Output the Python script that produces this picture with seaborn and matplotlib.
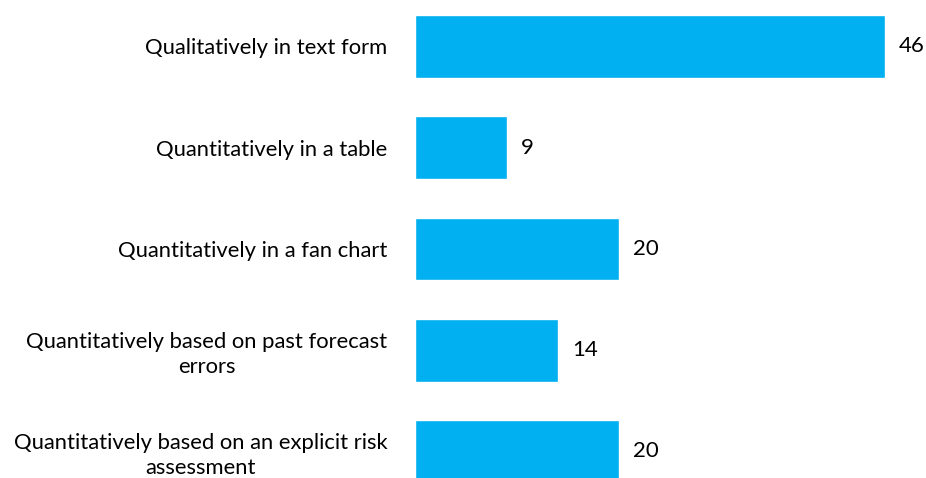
import matplotlib
matplotlib.use("Agg")
import matplotlib.pyplot as plt
import seaborn as sns
import pandas as pd

# data
categories = [
    "Qualitatively in text form",
    "Quantitatively in a table",
    "Quantitatively in a fan chart",
    "Quantitatively based on past forecast\nerrors",
    "Quantitatively based on an explicit risk\nassessment",
]
counts = [46, 9, 20, 14, 20]

df = pd.DataFrame({"Category": categories, "Count": counts})

sns.set_style("white")
plt.rcParams["font.family"] = ["Lato", "DejaVu Sans"]

fig = plt.figure(figsize=(9.26, 4.78), dpi=100)
ax = fig.add_axes([415 / 926, 0, 511 / 926, 1])

sns.barplot(data=df, x="Count", y="Category", orient="h", color="#00B0F0",
            saturation=1, width=0.62, ax=ax)

ax.bar_label(ax.containers[0], padding=10, fontsize=16, color="#000000")

ax.set_xlim(0, 50)
ax.set_ylim(4.262, -0.459)
ax.set_xlabel("")
ax.set_ylabel("")
ax.set_xticks([])
ax.tick_params(axis="y", length=0, pad=20, labelsize=15.8, labelcolor="#000000")
for lab in ax.get_yticklabels():
    lab.set_multialignment("center")
    lab.set_linespacing(1.3)
sns.despine(ax=ax, left=True, bottom=True)

fig.savefig("out.png", dpi=100)
